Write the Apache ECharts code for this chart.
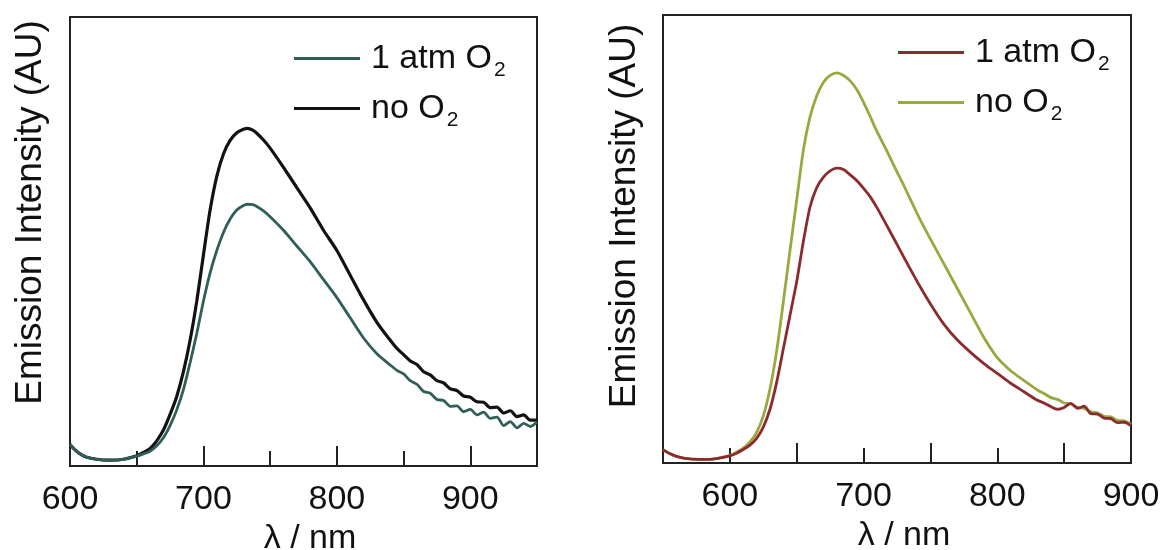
<!DOCTYPE html>
<html>
<head>
<meta charset="utf-8">
<script src="https://cdn.jsdelivr.net/npm/echarts@6/dist/echarts.min.js"></script>
<style>
html,body{margin:0;padding:0;background:#fff;}
#chart{width:1162px;height:550px;}
</style>
</head>
<body>
<div id="chart"></div>
<script>
// ---------- data ----------
const leftWl = [600,603,607,612,620,630,640,650,655,660,665,670,675,680,685,690,695,700,705,710,715,720,725,730,733,737,740,745,750,760,770,780,790,800,810,820,830,840,845,850,855,860,865,870,875,880,885,890,895,900,905,910,915,920,925,930,935,940,945,950];
const leftNoO2 = [4.8,3.8,2.8,2.0,1.5,1.3,1.5,2.3,3.0,3.9,5.6,8,11.5,15.5,21,28,36.7,47,57,64.5,69.5,72.5,74.2,75,75.2,74.8,74.1,72.6,70.8,66.5,62,57.5,52.5,48,42.5,37,32,28,26.2,24.8,23.4,22.6,21.0,20.3,19.0,18.5,17.2,16.8,15.6,15.3,14.3,14.2,13.0,13.1,11.8,12.3,11.0,11.4,10.2,10.2];
const leftO2 = [4.8,3.8,2.8,2.0,1.5,1.3,1.5,2.2,2.7,3.3,4.5,6.3,9,12.5,17,23,29.5,36.7,43,48,52,55,57,58,58.3,58.2,57.8,56.8,55.5,52.5,49,45.5,41.5,37.5,33,28.5,25,22.5,21.3,20.5,19.0,18.2,16.6,16.2,14.8,14.6,13.3,13.4,12.1,12.6,11.4,12.0,10.6,10.9,9.0,9.9,8.5,9.5,8.8,9.8];

const rightWl = [550,555,560,570,580,590,600,605,610,615,620,625,630,635,640,645,650,655,660,665,670,675,680,685,690,695,700,705,710,717,725,730,742,750,760,770,780,790,800,810,820,830,835,840,845,850,855,860,865,870,875,880,885,890,895,900];
const rightNoO2 = [3,2.1,1.5,0.9,0.8,1.0,1.7,2.4,3.3,4.7,6.8,10.5,16.5,25,36,47.5,58.7,69.9,77.3,82,85,86.5,87.1,86.5,85.3,83.3,80.5,77.3,74,69.9,65,62,54.5,50,44.5,39,33.5,28,23.5,20.6,18.4,16.3,15.5,14.6,14.2,13.4,13.2,12.4,12.2,11.4,11.2,10.4,10.3,9.5,9.4,8.6];
const rightO2 = [3,2.1,1.5,0.9,0.8,1.0,1.6,2.2,3.0,4.0,5.5,8,12,18,25.5,33,40.5,49.5,57.2,61.5,63.8,65.2,65.8,65.5,64.3,63,61.3,59.4,57,53.2,48.8,46,39.5,35.5,31,27.5,24.7,22.2,20,17.8,15.9,14,13.4,12.6,12.0,12.4,13.3,12.2,12.7,11.0,10.9,10.0,9.9,9.0,9.1,8.3];

const legendLabels = {L1:'1 atm O', L2:'no O', R1:'1 atm O', R2:'no O'};
const xTitle = 'λ / nm';
const yTitle = 'Emission Intensity (AU)';

// ---------- helpers ----------
const FONT = "'Liberation Sans', Arial, Helvetica, sans-serif";
const TXT = '#111111';
function pairs(xs, ys){ return xs.map((x,i)=>[x, ys[i]]); }

function xAxes(gi, min, max, padLeft){
  return [
    { gridIndex: gi, type:'value', min:min, max:max, interval:50, position:'bottom',
      axisLine:{show:false}, splitLine:{show:false},
      axisTick:{show:true, inside:true, length:15, lineStyle:{color:'#222', width:2}},
      axisLabel:{show:true, margin:17, fontSize:34, fontFamily:FONT, color:TXT,
        formatter: v => (v % 100 === 0 ? String(v) : '')},
      name: xTitle, nameLocation:'middle', nameGap:55,
      nameTextStyle:{fontSize:34, fontFamily:FONT, color:TXT, padding:[0,0,0,padLeft]}
    },
    { gridIndex: gi, type:'value', min:min, max:max, interval:100, position:'bottom',
      axisLine:{show:false}, splitLine:{show:false},
      axisTick:{show:true, inside:true, length:20, lineStyle:{color:'#222', width:2}},
      axisLabel:{show:false}
    }
  ];
}
function yAxis(gi, padShift, gap){
  return { gridIndex: gi, type:'value', min:0, max:100,
    axisLine:{show:false}, axisTick:{show:false}, axisLabel:{show:false}, splitLine:{show:false},
    name: yTitle, nameLocation:'middle', nameGap:gap,
    nameTextStyle:{fontSize:37, fontFamily:FONT, color:TXT, padding:[0,0,0,padShift]}
  };
}
function legend(names, left, top){
  return { data:names, orient:'vertical', left:left, top:top, itemWidth:66, itemHeight:3,
    itemGap:5, icon:'rect', selectedMode:false,
    formatter: n => '{m|' + legendLabels[n] + '}{s|2}',
    textStyle:{ fontFamily:FONT, color:TXT,
      rich:{ m:{fontSize:34, lineHeight:34, fontFamily:FONT, color:TXT, padding:[0,0,0,6]},
             s:{fontSize:21, lineHeight:21, fontFamily:FONT, color:TXT, padding:[24,0,0,2]} } }
  };
}
function line(name, xi, yi, data, color, w, z){
  return { name:name, type:'line', xAxisIndex:xi, yAxisIndex:yi, data:data,
    showSymbol:false, smooth:0.25, z:z, animation:false,
    lineStyle:{color:color, width:w}, itemStyle:{color:color} };
}

const chart = echarts.init(document.getElementById('chart'), null, {renderer:'canvas'});
chart.setOption({
  backgroundColor:'#ffffff',
  animation:false,
  grid:[
    {left:70, top:17, width:467, height:449, show:true, borderColor:'#222', borderWidth:2,
     backgroundColor:'transparent', containLabel:false, outerBoundsMode:'none'},
    {left:663, top:15, width:468, height:448, show:true, borderColor:'#222', borderWidth:2,
     backgroundColor:'transparent', containLabel:false, outerBoundsMode:'none'}
  ],
  xAxis: xAxes(0, 600, 950, 13).concat(xAxes(1, 550, 900, 14)),
  yAxis: [ yAxis(0, 58, 21), yAxis(1, 46, 20) ],
  legend: [ legend(['L1','L2'], 289, 31), legend(['R1','R2'], 893, 25) ],
  series: [
    line('L2', 0, 0, pairs(leftWl, leftNoO2), '#121212', 3.2, 2),
    line('L1', 0, 0, pairs(leftWl, leftO2), '#2f5f59', 2.8, 3),
    line('R2', 2, 1, pairs(rightWl, rightNoO2), '#9ba73f', 2.8, 2),
    line('R1', 2, 1, pairs(rightWl, rightO2), '#8b2b2d', 2.8, 3)
  ]
});
</script>
</body>
</html>
